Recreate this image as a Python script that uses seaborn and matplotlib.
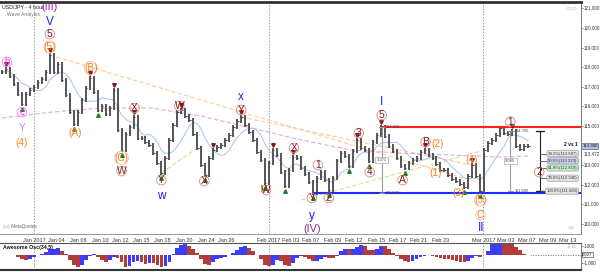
import numpy as np
import pandas as pd
import matplotlib
matplotlib.use("Agg")
import matplotlib.pyplot as plt
import seaborn as sns

sns.set_theme(style="white")
plt.rcParams['font.family'] = ['Liberation Sans', 'DejaVu Sans']

# ---------------- data ----------------
close = [117.76, 117.91, 117.55, 117.14, 116.63, 116.12, 116.63, 116.84, 116.99, 117.24,
         117.40, 117.76, 118.62, 117.76, 118.16, 117.35, 116.58, 115.71, 115.10, 115.71,
         116.33, 116.94, 117.45, 116.73, 115.82, 116.02, 115.61, 115.92, 116.84, 114.80,
         113.78, 114.59, 114.95, 115.46, 114.39, 114.39, 114.18, 114.03, 113.62, 113.11,
         112.60, 113.37, 114.29, 115.05, 115.71, 115.82, 115.51, 115.31, 114.59, 113.88,
         113.01, 112.50, 113.37, 113.78, 113.93, 114.03, 114.29, 114.54, 114.95, 115.26,
         115.46, 115.05, 114.69, 114.29, 113.67, 113.27, 112.09, 113.11, 113.78, 113.52,
         112.65, 111.94, 112.76, 113.42, 113.37, 112.86, 112.55, 112.14, 111.59, 112.35,
         112.65, 112.24, 111.74, 112.35, 113.21, 113.62, 113.47, 112.96, 113.72, 114.29,
         113.88, 113.78, 113.21, 114.18, 114.54, 114.96, 114.49, 113.98, 113.72, 113.37,
         112.96, 112.86, 113.11, 113.27, 113.37, 113.67, 113.78, 113.52, 113.37, 113.06,
         112.76, 112.76, 112.50, 112.30, 112.19, 112.04, 111.89, 112.45, 113.01, 112.45,
         111.68, 113.78, 114.13, 114.29, 114.54, 114.90, 114.64, 114.59, 114.765, 113.98,
         113.83, 113.98, 113.98]

slow_ma_bar = [0, 12.5, 25, 37.5, 50, 62.5, 75, 87.5, 100, 112.5, 125, 132]
slow_ma = [115.41, 115.71, 115.92, 115.92, 115.51, 114.90, 114.29, 113.78, 113.62, 113.52, 113.42, 113.47]

tick_labels = ["Jan 2017", "Jan 04", "Jan 06", "Jan 10", "Jan 12", "Jan 15", "Jan 18", "Jan 20",
               "Jan 24", "Jan 26", "Feb 2017", "Feb 03", "Feb 07", "Feb 09", "Feb 12", "Feb 15",
               "Feb 17", "Feb 21", "Feb 23", "Mar 2017", "Mar 03", "Mar 07", "Mar 09", "Mar 13"]
tick_bars = [8, 13.75, 19.25, 24.75, 29.75, 35, 40.25, 45.75, 51.25, 56.25, 67, 72.5, 77.5, 83,
             88.25, 94, 99.25, 104.5, 110, 120.75, 126.25, 131.75, 137, 142]
month_bars = [8, 67, 120.75]

high_bars = [1, 12, 22, 28, 33, 45, 53, 60, 68, 73, 89, 95, 106, 118, 128]
low_bars = [5, 18, 24, 30, 40, 51, 66, 71, 78, 82, 87, 92, 101, 116, 120]

# wave labels: text, bar, price, style
wave_text = ["b", "c", "Y", "(4)", "(III)", "V", "5", "(5)", "(A)", "(B)", "X", "(C)", "W", "Y", "w",
             "W", "X", "x", "Y", "W", "X", "1", "Y", "2", "y", "(IV)", "3", "4", "5", "I", "A", "B",
             "(2)", "(1)", "(3)", "(4)", "(5)", "C", "II", "1", "2"]
wave_bar = [1.25, 5, 5, 5, 12, 12, 12, 12, 18.25, 22.25, 33.25, 30, 30, 40, 40,
            44.5, 50.75, 60, 60, 66.25, 73.25, 79.25, 77.75, 82, 77.75, 77.75, 89.5, 92.25, 95.25, 95.25, 100.5, 106.25,
            109.25, 108.75, 114.5, 117.75, 120, 120, 120.25, 127.5, 134.75]
wave_price = [118.27, 115.71, 114.90, 114.13, 121.07, 120.31, 119.69, 119.03, 114.64, 117.96, 115.92, 113.37, 112.70, 112.24, 111.43,
              116.02, 112.19, 116.48, 115.82, 111.73, 113.88, 113.01, 111.33, 111.33, 110.41, 109.74, 114.64, 112.65, 115.56, 116.22, 112.24, 114.18,
              114.08, 112.60, 111.58, 113.27, 111.22, 110.46, 109.80, 115.22, 112.65]
wave_style = ["mag", "mag", "vio", "org", "pur", "blu", "red", "orgc", "org", "orgc", "red", "orgc", "red", "red", "blu",
              "red", "red", "blu", "red", "red", "red", "red", "red", "red", "blu", "pur", "red", "red", "red", "blu", "red", "red",
              "org", "org", "org", "org", "orgc", "orgc", "blu", "red", "red"]

fib_names = ["38.2%", "50.0%", "61.8%", "78.6%", "100.0%"]
fib_values = [113.587, 113.223, 112.859, 112.340, 111.680]
fib_faces = ["#e6e6e6", "#c9cff2", "#c8f0c8", "#e6e6e6", "#e6e6e6"]

wave1_top, wave1_bottom = 114.765, 111.680
waveI_top, waveI_bottom = 114.961, 111.590

# ---------------- figure ----------------
W, H = 600, 272
fig = plt.figure(figsize=(6, 2.72), dpi=100)
ax = fig.add_axes([0, 1 - 234 / H, 581 / W, 232 / H])
ax2 = fig.add_axes([0, 1 - 270 / H, 581 / W, 27 / H])

n = len(close)
bars = np.arange(n)
c = np.array(close)
o = np.concatenate([[c[0]], c[:-1]])
hi = np.maximum(o, c) + 0.09
lo = np.minimum(o, c) - 0.09

xlim = (-0.5, 145.25)
ax.set_xlim(*xlim)
ax.set_ylim(109.49, 121.33)

# month separators
for mb in month_bars:
    ax.axvline(mb, color="#9a9a9a", lw=0.7, ls=(0, (1.5, 1.5)), zorder=0)
    ax2.axvline(mb, color="#9a9a9a", lw=0.7, ls=(0, (1.5, 1.5)), zorder=0)

# trend lines (dashed)
ax.plot([12, 120], [118.62, 112.09], color="#ffc99a", lw=0.8, ls=(0, (4, 2)), zorder=1)
ax.plot([60, 117.75], [115.46, 113.01], color="#ffc99a", lw=0.8, ls=(0, (4, 2)), zorder=1)
ax.plot([75, 120], [111.22, 113.72], color="#dede9a", lw=0.8, ls=(0, (4, 2)), zorder=1)
ax.plot([40, 50], [112.60, 114.03], color="#dede9a", lw=0.8, ls=(0, (4, 2)), zorder=1)

# moving averages
df = pd.DataFrame({"bar": bars, "close": c})
df["fast"] = df["close"].rolling(7, min_periods=1).mean()
sns.lineplot(data=df, x="bar", y="fast", ax=ax, color="#a8c0f0", lw=0.7, zorder=2)
sns.lineplot(x=slow_ma_bar, y=slow_ma, ax=ax, color="#e2a8e2", lw=0.8, zorder=2)
ax.lines[-1].set_linestyle((0, (4, 2)))

# price bars
ax.vlines(bars, lo, hi, color="#484848", lw=1.3, zorder=3)
ax.hlines(c, bars, bars + 0.35, color="#484848", lw=0.8, zorder=3)

# support / resistance
ax.plot([95.25, xlim[1]], [waveI_top, waveI_top], color="#ff2020", lw=1.5, zorder=4)
ax.plot([78, xlim[1]], [waveI_bottom, waveI_bottom], color="#1a2cff", lw=1.5, zorder=4)

# pivot markers
for b in high_bars:
    ax.plot(b, hi[b] + 0.15, marker="v", ms=2.6, color="#8b1a1a", zorder=5)
for b in low_bars:
    ax.plot(b, lo[b] - 0.15, marker="^", ms=2.6, color="#208020", zorder=5)

# measurement lines
def measure(xb, top, bot, diff, col="#9a9a9a"):
    ax.plot([xb, xb], [bot, top], color=col, lw=0.8, zorder=4)
    for yv in (top, bot):
        ax.plot([xb - 0.6, xb + 0.6], [yv, yv], color=col, lw=0.8, zorder=4)
    ax.text(xb + 1.0, top, f"{top:.3f}", fontsize=3.0, color="#444", va="center", zorder=6)
    ax.text(xb + 1.0, bot, f"{bot:.3f}", fontsize=3.0, color="#444", va="center", zorder=6)
    ax.text(xb, (top + bot) / 2, diff, fontsize=3.0, color="#444", ha="center", va="center", zorder=6,
            bbox=dict(boxstyle="square,pad=0.3", fc="white", ec="#aaaaaa", lw=0.5))

measure(95.25, waveI_top, waveI_bottom, f"{waveI_top - waveI_bottom:.3f}")
measure(127.5, wave1_top, wave1_bottom, f"{wave1_top - wave1_bottom:.3f}")

# black projection bracket with fibonacci boxes
xb = 135
ax.plot([xb, xb], [wave1_bottom, wave1_top], color="#222", lw=0.8, zorder=4)
for yv in (wave1_top, wave1_bottom):
    ax.plot([xb - 1.0, xb + 1.0], [yv, yv], color="#222", lw=1.0, zorder=4)
for name, val, fc in zip(fib_names, fib_values, fib_faces):
    ax.plot([xb, 138.2], [val, val], color="#555", lw=0.6, zorder=4)
    ax.text(144.4, val, f"{name}({val:.3f})", fontsize=3.1, color="#333", ha="right", va="center", zorder=6,
            bbox=dict(boxstyle="round,pad=0.25,rounding_size=0.4", fc=fc, ec="#888", lw=0.4))
ax.text(144.4, 114.05, "2 vs 1", fontsize=3.6, color="#111", ha="right", va="center", weight="bold", zorder=6)

# wave labels
styles = {
    "red": dict(color="#8b1a1a", fs=7.4, circ="#d08a8a"),
    "org": dict(color="#ff7f1e", fs=7.2, circ=None),
    "orgc": dict(color="#ff7f1e", fs=7.2, circ="#f3c09a"),
    "blu": dict(color="#1c1cf0", fs=8.5, circ=None),
    "pur": dict(color="#8a2a9a", fs=7.8, circ=None),
    "mag": dict(color="#ff33ff", fs=7.0, circ="#ff77ff"),
    "vio": dict(color="#cc80e0", fs=7.5, circ=None),
}
for t, b, p, s in zip(wave_text, wave_bar, wave_price, wave_style):
    st = styles[s]
    bbox = None
    if st["circ"]:
        bbox = dict(boxstyle="circle,pad=-0.02", fc="none", ec=st["circ"], lw=0.6)
    ax.text(b, p, t, color=st["color"], fontsize=st["fs"], ha="center", va="center", bbox=bbox, zorder=7)

# titles
ax.text(0.004, 0.985, "USD/JPY - 4 hour", transform=ax.transAxes, fontsize=3.8, color="#222", va="top")
ax.text(0.012, 0.955, "Wave Analysis", transform=ax.transAxes, fontsize=3.6, color="#777", va="top")
ax.text(0.005, 0.02, "\u25c7\u25c7 MetaQuotes", transform=ax.transAxes, fontsize=3.3, color="#666", va="bottom")
ax.text(0.995, 0.985, "\u25c7\u25c7\u25c7", transform=ax.transAxes, fontsize=3.6, color="#999", va="top", ha="right")
ax.text(0.99, 0.02, "\u25c7\u25c7", transform=ax.transAxes, fontsize=3.4, color="#999", va="bottom", ha="right")

# axes styling (main)
ax.yaxis.tick_right()
yt = [v for v in range(110, 122) if v != 114]
ax.set_yticks(yt)
ax.set_yticklabels([f"{v:.3f}" for v in yt], fontsize=3.3, color="#333")
ax.set_xticks(tick_bars)
ax.set_xticklabels(tick_labels, fontsize=4.0, color="#333")
ax.tick_params(axis="x", length=2, width=0.5, pad=1.2, colors="#555", labelcolor="#333")
ax.tick_params(axis="y", length=1.5, width=0.5, pad=0.6, colors="#555", labelcolor="#333")
ax.set_xlabel("")
ax.set_ylabel("")
ax.spines["left"].set_visible(False)
ax.spines["top"].set_color("#333")
ax.spines["top"].set_linewidth(2)
ax.spines["right"].set_color("#777")
ax.spines["right"].set_linewidth(0.7)
ax.spines["bottom"].set_color("#888")
ax.spines["bottom"].set_linewidth(0.6)

# last price boxes on the right axis
ax.annotate(f"{close[-1]:.3f}", xy=(1.002, close[-1]), xycoords=("axes fraction", "data"), fontsize=3.2,
            color="#111", va="center", ha="left", annotation_clip=False,
            bbox=dict(boxstyle="square,pad=0.15", fc="#b9c0dc", ec="#5a64a0", lw=0.5))
ax.annotate("113.472", xy=(1.004, 113.55), xycoords=("axes fraction", "data"), fontsize=3.3,
            color="#333", va="center", ha="left", annotation_clip=False)

# ---------------- awesome oscillator ----------------
mid = pd.Series(c)
ao = (mid.rolling(3, min_periods=1).mean() - mid.rolling(15, min_periods=1).mean()).values
rising = np.concatenate([[True], ao[1:] >= ao[:-1]])
ao_df = pd.DataFrame({"bar": bars, "ao": ao, "col": np.where(rising, "#3c3cff", "#b03c3c")})
ax2.bar(ao_df["bar"], ao_df["ao"], width=0.95, color=ao_df["col"], lw=0)
ax2.set_xlim(*xlim)
ax2.set_ylim(-1.8, 1.4)
ax2.plot([n - 0.5, xlim[1]], [0, 0], color="#777", lw=0.6, ls=(0, (1.5, 1.5)))
ax2.yaxis.tick_right()
ax2.set_yticks([1, -1])
ax2.set_yticklabels(["1.000", "-1.000"], fontsize=3.3, color="#333")
ax2.tick_params(axis="y", length=1.5, width=0.5, pad=0.6, colors="#555", labelcolor="#333")
ax2.set_xticks([])
ax2.annotate(f"{ao[-1]:.3f}", xy=(1.002, 0), xycoords=("axes fraction", "data"), fontsize=3.1,
             color="#111", va="center", ha="left", annotation_clip=False,
             bbox=dict(boxstyle="square,pad=0.15", fc="white", ec="#555", lw=0.5))
ax2.text(0.005, 0.93, "Awesome Osc(34,5)", transform=ax2.transAxes, fontsize=3.8, color="#111",
         va="top", weight="bold")
ax2.text(0.99, 0.95, "\u21e9 \u25a1", transform=ax2.transAxes, fontsize=3.4, color="#999", va="top", ha="right")
ax2.spines["left"].set_visible(False)
ax2.spines["top"].set_color("#555")
ax2.spines["top"].set_linewidth(0.8)
ax2.spines["bottom"].set_color("#333")
ax2.spines["bottom"].set_linewidth(1.5)
ax2.spines["right"].set_color("#777")
ax2.spines["right"].set_linewidth(0.7)

fig.savefig("out.png", dpi=100, facecolor="white")
